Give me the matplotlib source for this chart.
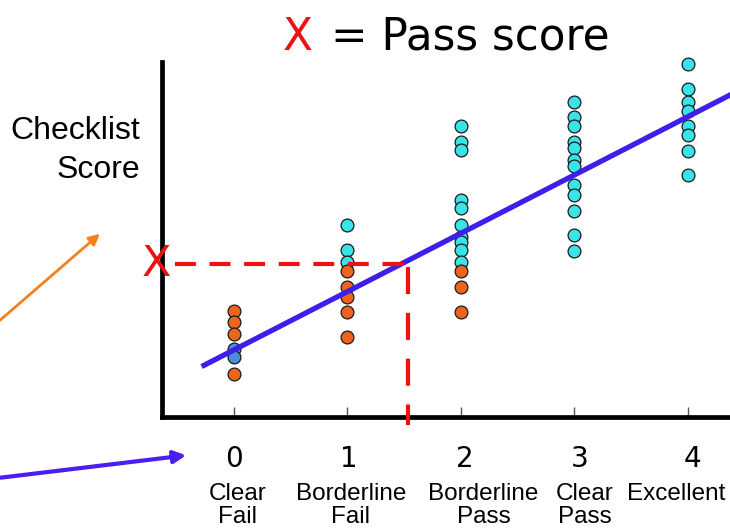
import matplotlib
matplotlib.use("Agg")
import numpy as np
import matplotlib.pyplot as plt

# Global rating (x) vs checklist score (y, 0-100 scale)
grade_levels = [0, 1, 2, 3, 4]
grade_numbers = ["0", "1", "2", "3", "4"]
grade_names = ["Clear\nFail", "Borderline\nFail", "Borderline\nPass",
               "Clear\nPass", "Excellent"]

# orange = failed, cyan = passed, blue = in-between at grade 0
fail_x = [0, 0, 0, 0, 1, 1, 1, 1, 1, 2, 2, 2]
fail_y = [29.9, 26.8, 23.4, 12.1, 41.2, 36.7, 33.9, 29.7, 22.6, 41.2, 36.5, 29.7]

mid_x = [0, 0]
mid_y = [19.2, 16.9]

pass_x = [1, 1, 1,
          2, 2, 2, 2, 2, 2, 2, 2, 2, 2,
          3, 3, 3, 3, 3, 3, 3, 3, 3, 3, 3, 3,
          4, 4, 4, 4, 4, 4, 4, 4]
pass_y = [54.1, 47.0, 43.7,
          82.0, 77.6, 75.2, 61.1, 58.8, 54.1, 50.8, 49.4, 47.0, 43.7,
          88.8, 84.6, 82.0, 77.6, 75.7, 72.4, 70.7, 65.4, 62.5, 58.0, 51.3, 46.8,
          99.4, 92.3, 88.8, 86.3, 82.0, 79.4, 75.0, 68.2]

# regression line and pass mark
fit_slope = 16.43
fit_intercept = 18.9
fit_x = np.array([-0.285, 4.4])
pass_grade = 1.533
pass_score = 43.1

# the slide places its labels by hand, a little off the ticks
num_pos = [0, 1.01, 2.03, 3.05, 4.04]
name_pos = [0.03, 1.03, 2.2, 3.09, 3.9]

ORANGE = "#EE641C"
CYAN = "#38E4E8"
BLUE_PT = "#4A8FD8"
LINE_BLUE = "#3D1EEB"
RED = "#EE1111"

fig = plt.figure(figsize=(7.3, 5.3), dpi=100)
ax = fig.add_axes([162 / 730, 113 / 530, (730 - 162) / 730, 355 / 530])

ax.scatter(pass_x, pass_y, s=85, color=CYAN, edgecolor="#1a1a1a", lw=0.9,
           zorder=3, clip_on=False)
ax.scatter(fail_x, fail_y, s=85, color=ORANGE, edgecolor="#1a1a1a", lw=0.9,
           zorder=3, clip_on=False)
ax.scatter(mid_x, mid_y, s=85, color=BLUE_PT, edgecolor="#1a1a1a", lw=0.9,
           zorder=3, clip_on=False)

ax.plot(fit_x, fit_intercept + fit_slope * fit_x, color=LINE_BLUE, lw=3.8,
        solid_capstyle="butt", zorder=4)

# pass-mark dashed lines
ax.plot([-0.52, pass_grade], [pass_score, pass_score], color=RED, lw=3,
        dashes=(5, 3.3), zorder=5, clip_on=False)
ax.plot([pass_grade, pass_grade], [pass_score - 0.8, -2.2], color=RED, lw=3,
        dashes=(6.5, 4.5), zorder=5, clip_on=False)

ax.set_xlim(-0.634, 4.37)
ax.set_ylim(0, 100)

for side in ["top", "right"]:
    ax.spines[side].set_visible(False)
ax.spines["left"].set_linewidth(3.4)
ax.spines["bottom"].set_linewidth(3.4)
ax.set_yticks([])
ax.set_xticks(grade_levels)
ax.set_xticklabels([])
ax.tick_params(axis="x", direction="in", length=7, width=1, color="#555555")

trans = ax.get_xaxis_transform()
for nx, num in zip(num_pos, grade_numbers):
    ax.text(nx, -0.117, num, transform=trans, ha="center", va="center",
            fontsize=20, family="DejaVu Sans")
for lx, name in zip(name_pos, grade_names):
    ax.text(lx, -0.185, name, transform=trans, ha="center", va="top",
            fontsize=17.5, family="Liberation Sans", linespacing=1.08)

# red X on the y axis
ax.text(-0.68, pass_score, "X", color=RED, ha="center", va="center",
        fontsize=31, family="DejaVu Sans", clip_on=False, zorder=6)

ax.text(-0.83, 75.0, "Checklist\nScore", ha="right", va="center",
        fontsize=23, family="Liberation Sans", linespacing=1.4)

# title
fig.text(283 / 730, 1 - 50 / 530, "X", color=RED, ha="left", va="baseline",
         fontsize=31.5, family="DejaVu Sans")
fig.text(331 / 730, 1 - 50 / 530, "= Pass score", color="black", ha="left",
         va="baseline", fontsize=31.5, family="DejaVu Sans")

# arrows at the left edge
ax.annotate("", xy=(102 / 730, 1 - 232 / 530), xytext=(-2 / 730, 1 - 322 / 530),
            xycoords="figure fraction", textcoords="figure fraction",
            arrowprops=dict(arrowstyle="-|>", color="#F5801E", lw=2,
                            mutation_scale=16), annotation_clip=False)
ax.annotate("", xy=(189 / 730, 1 - 455 / 530), xytext=(-2 / 730, 1 - 478 / 530),
            xycoords="figure fraction", textcoords="figure fraction",
            arrowprops=dict(arrowstyle="-|>", color="#4A1EF0", lw=3,
                            mutation_scale=18), annotation_clip=False)

fig.savefig("out.png", dpi=100)
